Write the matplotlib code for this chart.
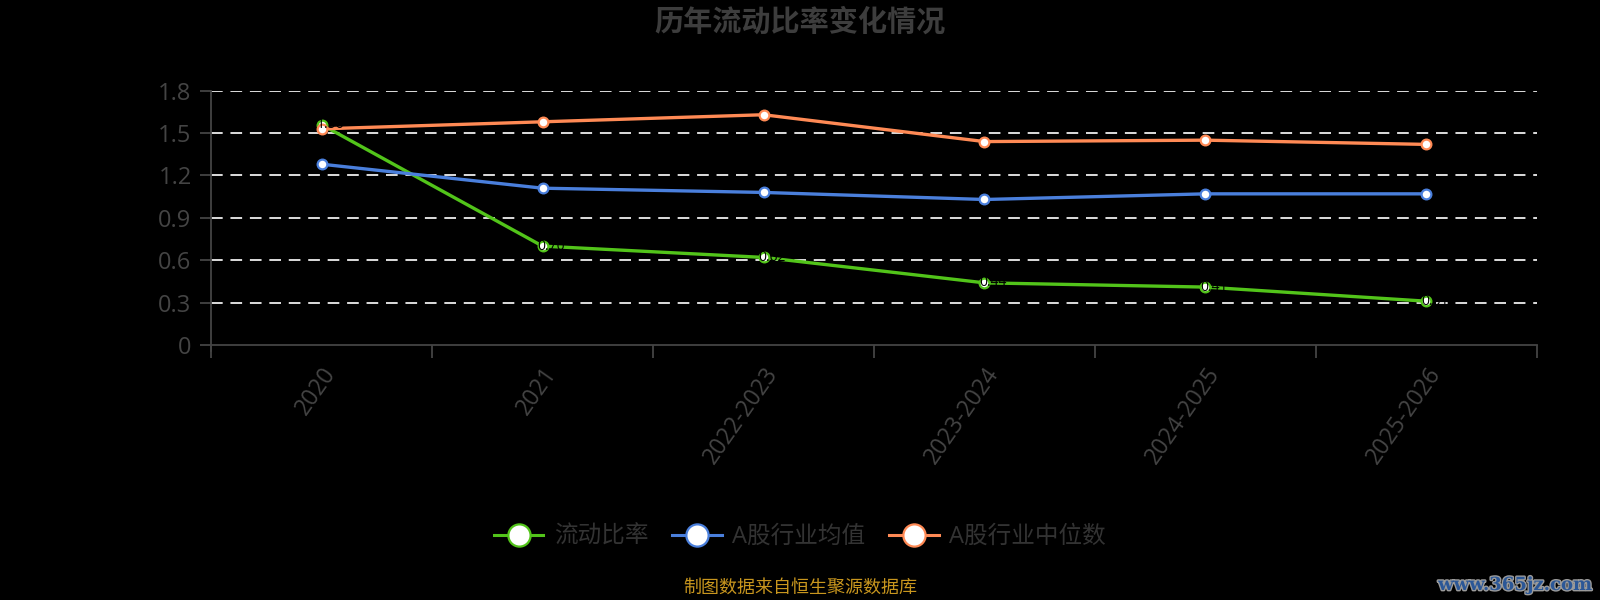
import matplotlib
matplotlib.use("Agg")
import matplotlib.pyplot as plt
import matplotlib.patheffects as pe
from matplotlib.ticker import FixedLocator, NullFormatter

plt.rcParams['font.family'] = ['Open Sans', 'Noto Sans CJK SC', 'DejaVu Sans']

# data
years = ["2020", "2021", "2022-2023", "2023-2024", "2024-2025", "2025-2026"]
current_ratio = [1.56, 0.70, 0.62, 0.44, 0.41, 0.31]
industry_mean = [1.28, 1.11, 1.08, 1.03, 1.07, 1.07]
industry_median = [1.53, 1.58, 1.63, 1.44, 1.45, 1.42]
yticks = [0, 0.3, 0.6, 0.9, 1.2, 1.5, 1.8]

green = "#52c41a"
blue = "#4a7fdc"
orange = "#ff8a55"
gray = "#444444"

fig = plt.figure(figsize=(16, 6), dpi=100, facecolor="black")
ax = fig.add_axes([0.1319, 0.425, 0.8287, 0.4238])
ax.set_facecolor("black")

x = list(range(len(years)))
series = [
    ("流动比率", current_ratio, green),
    ("A股行业均值", industry_mean, blue),
    ("A股行业中位数", industry_median, orange),
]
for name, vals, col in series:
    ax.plot(x, vals, color=col, lw=2.4, marker="o", markersize=7,
            markerfacecolor="white", markeredgecolor=col, markeredgewidth=1.6,
            label=name, zorder=3)

# black value labels on the green line (hardly visible, like the original)
for xi, v in zip(x, current_ratio):
    ax.text(xi + 0.04, v, f"{v:.2f}", color="black", fontsize=10,
            ha="center", va="center", zorder=5)

ax.set_xlim(-0.5, len(years) - 0.5)
ax.set_ylim(0, 1.8)
ax.set_yticks(yticks)
ax.set_yticklabels(["0", "0.3", "0.6", "0.9", "1.2", "1.5", "1.8"])
for t in yticks[1:]:
    ax.axhline(t, color="#dddddd", lw=1.4, ls=(0, (6, 4)), zorder=1)

ax.set_xticks(x)
ax.set_xticklabels(years, rotation=55, ha="right", va="top",
                   rotation_mode="anchor")
ax.xaxis.set_minor_locator(FixedLocator([i - 0.5 for i in range(len(years) + 1)]))
ax.xaxis.set_minor_formatter(NullFormatter())
ax.tick_params(axis="x", which="major", length=0, pad=13, labelsize=16.5, colors=gray)
ax.tick_params(axis="x", which="minor", length=9, width=1.3, color=gray)
ax.tick_params(axis="y", length=8, width=1.3, color=gray, labelsize=17,
               labelcolor=gray, pad=6)

for s in ["top", "right"]:
    ax.spines[s].set_visible(False)
ax.spines["left"].set_color(gray)
ax.spines["bottom"].set_color(gray)
ax.spines["left"].set_linewidth(1.3)
ax.spines["bottom"].set_linewidth(1.3)
ax.spines["left"].set_bounds(-0.04, 1.8)

fig.text(0.5, 0.961, "历年流动比率变化情况", ha="center", va="center",
         fontsize=21, fontweight="bold", color="#3d3d3d")

handles = []
for name, vals, col in series:
    h, = ax.plot([], [], color=col, lw=2.2, marker="o", markersize=16,
                 markerfacecolor="white", markeredgecolor=col, markeredgewidth=1.6)
    handles.append(h)
leg = fig.legend(handles, [s[0] for s in series], loc="center",
                 bbox_to_anchor=(0.5, 0.105), ncol=3, frameon=False,
                 fontsize=17, handlelength=2.1, handletextpad=0.45,
                 columnspacing=1.0)
for t in leg.get_texts():
    t.set_color("#333333")

fig.text(0.5, 0.02, "制图数据来自恒生聚源数据库", ha="center", va="center",
         fontsize=13, color="#c8961e")

wm = fig.text(0.995, 0.025, "www.365jz.com", ha="right", va="center",
              fontsize=13, fontweight="bold", color="#2b5797",
              family=["DejaVu Serif"])
wm.set_path_effects([pe.withStroke(linewidth=2, foreground="#9a9a9a")])

fig.savefig("out.png", dpi=100, facecolor="black")
